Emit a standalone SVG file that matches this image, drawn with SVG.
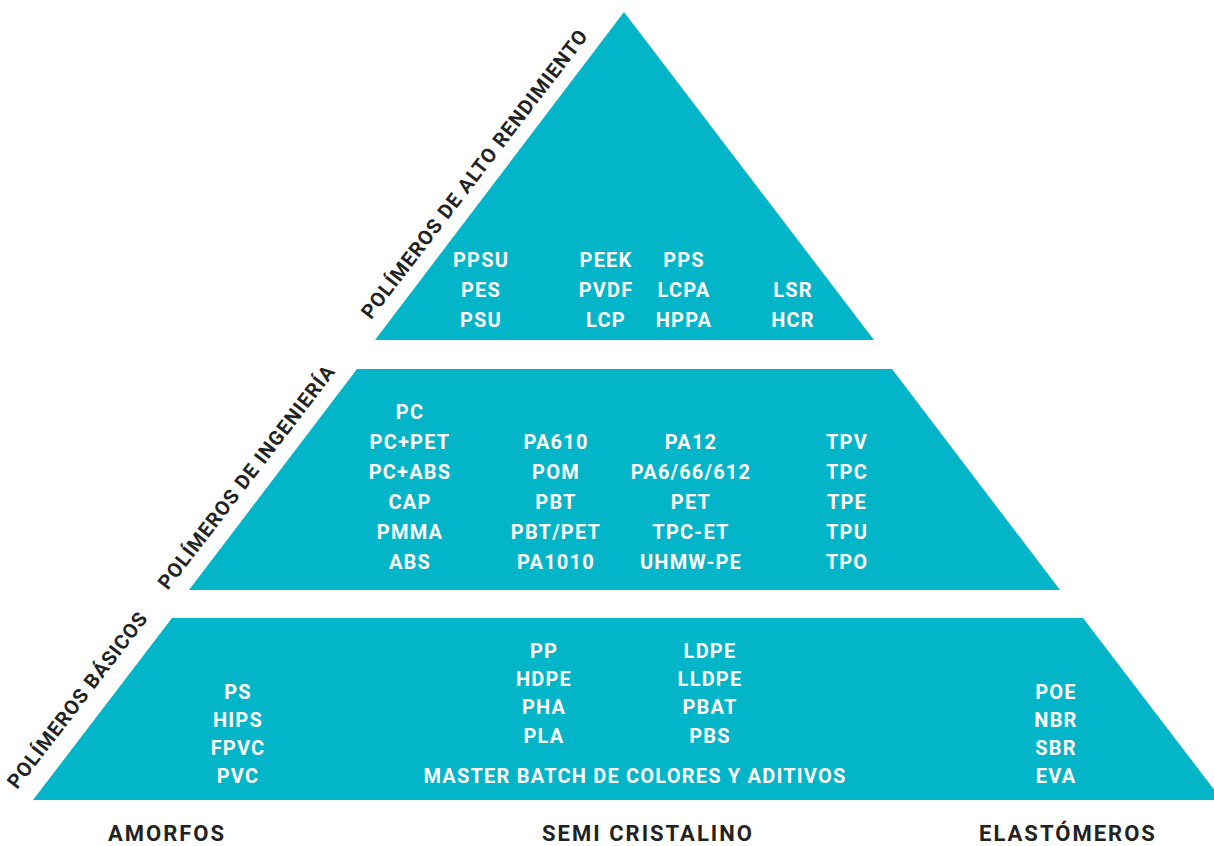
<svg xmlns="http://www.w3.org/2000/svg" width="1214" height="846" viewBox="0 0 1214 846">
<style>
.tier{fill:#02b5c8;}
.w{fill:#ffffff;font-family:Roboto,"Liberation Sans",sans-serif;font-weight:700;font-size:20px;letter-spacing:1.2px;text-anchor:middle;}
.lbl{fill:#222222;font-family:Roboto,"Liberation Sans",sans-serif;font-weight:700;font-size:20px;letter-spacing:1px;text-anchor:middle;}
.cat{fill:#222222;font-family:Roboto,"Liberation Sans",sans-serif;font-weight:700;font-size:22px;letter-spacing:2px;text-anchor:middle;}
</style>
<rect width="1214" height="846" fill="#ffffff"/>
<g id="tier-alto">
<polygon class="tier" points="624,12 874,340 375,340"/>
<text class="lbl" transform="translate(480,178) rotate(-52.5)">POLÍMEROS DE ALTO RENDIMIENTO</text>
<text class="w" x="481" y="267">PPSU</text>
<text class="w" x="481" y="297">PES</text>
<text class="w" x="481" y="327">PSU</text>
<text class="w" x="606" y="267">PEEK</text>
<text class="w" x="606" y="297">PVDF</text>
<text class="w" x="606" y="327">LCP</text>
<text class="w" x="684" y="267">PPS</text>
<text class="w" x="684" y="297">LCPA</text>
<text class="w" x="684" y="327">HPPA</text>
<text class="w" x="793" y="297">LSR</text>
<text class="w" x="793" y="327">HCR</text>
</g>
<g id="tier-ingenieria">
<polygon class="tier" points="357,369 892,369 1060,590 189,590"/>
<text class="lbl" transform="translate(252,481) rotate(-52.5)">POLÍMEROS DE INGENIERÍA</text>
<text class="w" x="410" y="419">PC</text>
<text class="w" x="410" y="449">PC+PET</text>
<text class="w" x="410" y="479">PC+ABS</text>
<text class="w" x="410" y="509">CAP</text>
<text class="w" x="410" y="539">PMMA</text>
<text class="w" x="410" y="569">ABS</text>
<text class="w" x="556" y="449">PA610</text>
<text class="w" x="556" y="479">POM</text>
<text class="w" x="556" y="509">PBT</text>
<text class="w" x="556" y="539">PBT/PET</text>
<text class="w" x="556" y="569">PA1010</text>
<text class="w" x="691" y="449">PA12</text>
<text class="w" x="691" y="479">PA6/66/612</text>
<text class="w" x="691" y="509">PET</text>
<text class="w" x="691" y="539">TPC-ET</text>
<text class="w" x="691" y="569">UHMW-PE</text>
<text class="w" x="847" y="449">TPV</text>
<text class="w" x="847" y="479">TPC</text>
<text class="w" x="847" y="509">TPE</text>
<text class="w" x="847" y="539">TPU</text>
<text class="w" x="847" y="569">TPO</text>
</g>
<g id="tier-basicos">
<polygon class="tier" points="172,618 1083,618 1222,800 33,800"/>
<text class="lbl" transform="translate(83,704) rotate(-52.5)">POLÍMEROS BÁSICOS</text>
<text class="w" x="238" y="699">PS</text>
<text class="w" x="238" y="727">HIPS</text>
<text class="w" x="238" y="755">FPVC</text>
<text class="w" x="238" y="783">PVC</text>
<text class="w" x="544" y="658">PP</text>
<text class="w" x="544" y="686">HDPE</text>
<text class="w" x="544" y="714">PHA</text>
<text class="w" x="544" y="743">PLA</text>
<text class="w" x="710" y="658">LDPE</text>
<text class="w" x="710" y="686">LLDPE</text>
<text class="w" x="710" y="714">PBAT</text>
<text class="w" x="710" y="743">PBS</text>
<text class="w" x="635" y="783">MASTER BATCH DE COLORES Y ADITIVOS</text>
<text class="w" x="1056" y="699">POE</text>
<text class="w" x="1056" y="727">NBR</text>
<text class="w" x="1056" y="755">SBR</text>
<text class="w" x="1056" y="783">EVA</text>
</g>
<g id="categories">
<text class="cat" x="167" y="841">AMORFOS</text>
<text class="cat" x="648" y="841">SEMI CRISTALINO</text>
<text class="cat" x="1068" y="841">ELASTÓMEROS</text>
</g>
<g id="connectors"></g>
</svg>
